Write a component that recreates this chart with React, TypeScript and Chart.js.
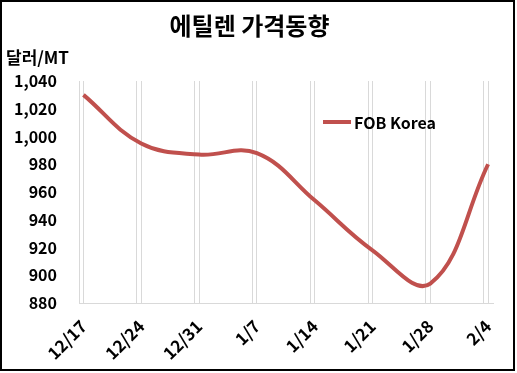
import React, { useEffect, useRef } from "react";
import { Chart, registerables } from "chart.js";

Chart.register(...registerables);

const categories = ["12/17", "12/24", "12/31", "1/7", "1/14", "1/21", "1/28", "2/4"];
const fobKorea = [1030, 995, 987, 988, 954, 918, 894, 980];
const seriesName = "FOB Korea";
const chartTitle = "에틸렌 가격동향";
const unitLabel = "달러/MT";
const yMin = 880;
const yMax = 1040;
const yStep = 20;

const FONT = "'Noto Sans CJK KR', 'Noto Sans', sans-serif";
const LINE_COLOR = "#C0504D";
const GRID_COLOR = "#D9D9D9";
const GRID_OFFSET = 0.077;

export default function App() {
  const canvasRef = useRef<HTMLCanvasElement | null>(null);

  useEffect(() => {
    document.body.style.margin = "0";
    const canvas = canvasRef.current;
    if (!canvas) return;
    const chart = new Chart(canvas, {
      type: "line",
      data: {
        datasets: [
          {
            label: seriesName,
            data: fobKorea.map((v, i) => ({ x: i, y: v })),
            borderColor: LINE_COLOR,
            backgroundColor: LINE_COLOR,
            borderWidth: 4,
            pointRadius: 0,
            tension: 0.4,
            fill: false,
          },
        ],
      },
      options: {
        animation: false,
        responsive: false,
        maintainAspectRatio: false,
        layout: { padding: { left: 4, right: 20, top: 0, bottom: 0 } },
        plugins: {
          legend: { display: false },
          tooltip: { enabled: false },
          title: {
            display: true,
            text: chartTitle,
            color: "#000",
            font: { family: FONT, size: 24, weight: "bold", lineHeight: 1 },
            padding: { top: 12, bottom: 11 },
          },
          subtitle: {
            display: true,
            text: unitLabel,
            align: "start",
            color: "#000",
            font: { family: FONT, size: 17, weight: "bold", lineHeight: 1 },
            padding: { top: 0, bottom: 15 },
          },
        },
        scales: {
          x: {
            type: "linear",
            min: -GRID_OFFSET,
            max: 7.085,
            afterBuildTicks: (scale: any) => {
              const t: any[] = [];
              categories.forEach((_, i) => {
                t.push({ value: i - GRID_OFFSET });
                t.push({ value: i });
              });
              scale.ticks = t;
            },
            afterFit: (scale: any) => {
              scale.height = 66;
              scale.paddingLeft = 0;
              scale.paddingRight = 0;
            },
            grid: { display: true, color: GRID_COLOR, drawTicks: false, lineWidth: 1 },
            border: { display: true, color: GRID_COLOR, width: 1 },
            ticks: {
              autoSkip: false,
              minRotation: 45,
              maxRotation: 45,
              padding: 13,
              color: "#000",
              font: { family: FONT, size: 17, weight: "bold" },
              callback: (value: any) => {
                const v = Number(value);
                return Number.isInteger(v) ? categories[v] : "";
              },
            },
          },
          y: {
            min: yMin,
            max: yMax,
            afterFit: (scale: any) => {
              scale.width = 73;
            },
            grid: { display: false, drawTicks: false },
            border: { display: false },
            ticks: {
              stepSize: yStep,
              padding: 22,
              color: "#000",
              font: { family: FONT, size: 16, weight: "bold" },
              callback: (value: any) => Number(value).toLocaleString("en-US"),
            },
          },
        },
      },
    });
    return () => chart.destroy();
  }, []);

  return (
    <div
      style={{
        position: "absolute",
        left: 0,
        top: 0,
        width: 515,
        height: 371,
        boxSizing: "border-box",
        border: "2px solid #000",
        background: "#fff",
      }}
    >
      <canvas ref={canvasRef} width={511} height={367} style={{ display: "block" }} />
      <div
        style={{
          position: "absolute",
          left: 321,
          top: 108,
          display: "flex",
          alignItems: "center",
          fontFamily: FONT,
          fontWeight: "bold",
          fontSize: 16,
          color: "#000",
          whiteSpace: "pre",
        }}
      >
        <span style={{ display: "inline-block", width: 28, height: 4, background: LINE_COLOR, marginRight: 3 }} />
        <span>{seriesName}</span>
      </div>
    </div>
  );
}
